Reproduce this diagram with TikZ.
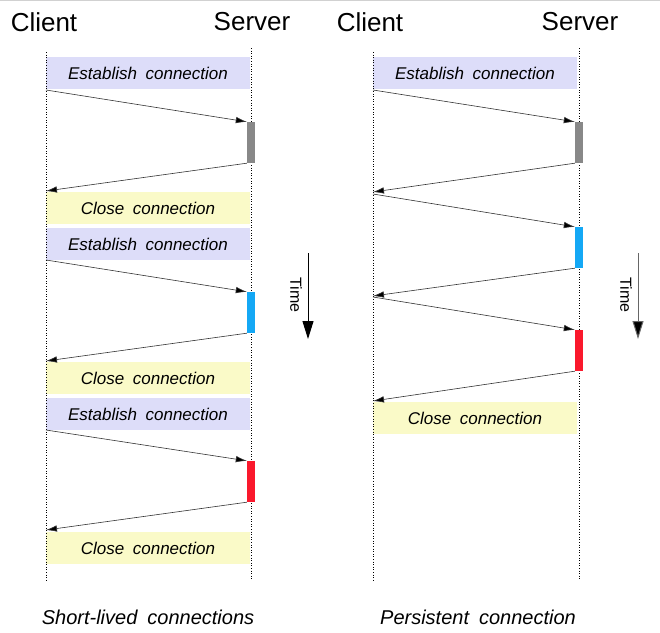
\documentclass[tikz,border=0pt]{standalone}
\usepackage{fontspec}
\setmainfont{Liberation Sans}[WordSpace=1.8]
\usetikzlibrary{arrows.meta}
\definecolor{estfill}{RGB}{221,221,249}
\definecolor{closefill}{RGB}{250,250,200}
\definecolor{bargray}{RGB}{136,136,136}
\definecolor{barblue}{RGB}{20,168,245}
\definecolor{barred}{RGB}{250,24,44}
\tikzset{
  hdr/.style={font=\fontsize{26}{30}\selectfont, inner sep=0pt},
  lifeline/.style={draw=black, line width=0.6pt, dotted},
  boxbase/.style={rectangle, minimum width=204pt, minimum height=32pt, inner sep=0pt, font=\fontsize{17}{20}\selectfont\itshape},
  estbox/.style={boxbase, fill=estfill},
  closebox/.style={boxbase, fill=closefill},
  actbar/.style={rectangle, minimum width=8pt, minimum height=41pt, inner sep=0pt},
  msg/.style={draw=black!80, line width=0.6pt, -{Latex[length=11pt,width=6.5pt,fill=black]}},
  timearrow/.style={line width=1pt, -{Triangle[length=18pt,width=11pt]}},
  timelabel/.style={rotate=-90, font=\fontsize{16}{19}\selectfont, inner sep=0pt},
  caption/.style={font=\fontsize{20}{23}\selectfont\itshape, inner sep=0pt}
}
\begin{document}
\begin{tikzpicture}[x=1pt,y=-1pt]
\useasboundingbox (0,0) rectangle (660,632);
\fill[white] (0,0) rectangle (660,632);
\draw[black!18, line width=1.5pt] (0,0.5) -- (660,0.5);

% ---------- Left: short-lived ----------
\node[hdr] (lclient) at (44,22) {Client};
\node[hdr] (lserver) at (252,22) {Server};
\coordinate (lct) at (46,52);
\coordinate (lcb) at (46,580);
\coordinate (lst) at (251,48);
\coordinate (lsb) at (251,580);

\node[estbox] (le1) at (148,73) {Establish connection};
\node[closebox] (lc1) at (148,208) {Close connection};
\node[estbox] (le2) at (148,244) {Establish connection};
\node[closebox] (lc2) at (148,378) {Close connection};
\node[estbox] (le3) at (148,414) {Establish connection};
\node[closebox] (lc3) at (148,548) {Close connection};

\draw[lifeline] (lct) -- (lcb);
\draw[lifeline] (lst) -- (lsb);

\node[actbar, fill=bargray] (lg) at (251,142.5) {};
\node[actbar, fill=barblue] (lb) at (251,312.5) {};
\node[actbar, fill=barred] (lr) at (251,481.5) {};

\coordinate (la1) at (46,90);
\coordinate (la2) at (46,191);
\coordinate (la3) at (46,260);
\coordinate (la4) at (46,361);
\coordinate (la5) at (46,430);
\coordinate (la6) at (46,530);

\draw[msg] (la1) -- (lg.north west);
\draw[msg] (lg.south west) -- (la2);
\draw[msg] (la3) -- (lb.north west);
\draw[msg] (lb.south west) -- (la4);
\draw[msg] (la5) -- (lr.north west);
\draw[msg] (lr.south west) -- (la6);

\coordinate (lt1) at (308,253);
\coordinate (lt2) at (308,339);
\draw[timearrow, black] (lt1) -- (lt2);
\node[timelabel] (ltl) at (296,295) {Time};

\node[caption] (lcap) at (148,617) {Short-lived connections};

% ---------- Right: persistent ----------
\node[hdr] (rclient) at (370,22) {Client};
\node[hdr] (rserver) at (580,22) {Server};
\coordinate (rct) at (373,52);
\coordinate (rcb) at (373,580);
\coordinate (rst) at (579,48);
\coordinate (rsb) at (579,580);

\node[estbox] (re1) at (475,73) {Establish connection};
\node[closebox] (rc1) at (475,418) {Close connection};

\draw[lifeline] (rct) -- (rcb);
\draw[lifeline] (rst) -- (rsb);

\node[actbar, fill=bargray] (rg) at (579,142.5) {};
\node[actbar, fill=barblue] (rb) at (579,247.5) {};
\node[actbar, fill=barred] (rr) at (579,350.5) {};

\coordinate (ra1) at (373,90);
\coordinate (ra2) at (373,192);
\coordinate (ra3) at (373,194);
\coordinate (ra4) at (373,296);
\coordinate (ra5) at (373,297);
\coordinate (ra6) at (373,401);

\draw[msg] (ra1) -- (rg.north west);
\draw[msg] (rg.south west) -- (ra2);
\draw[msg] (ra3) -- (rb.north west);
\draw[msg] (rb.south west) -- (ra4);
\draw[msg] (ra5) -- (rr.north west);
\draw[msg] (rr.south west) -- (ra6);

\coordinate (rt1) at (638,253);
\coordinate (rt2) at (638,339);
\draw[timearrow, black!60, arrows={-{Triangle[length=18pt,width=11pt,fill=black]}}] (rt1) -- (rt2);
\node[timelabel] (rtl) at (626,295) {Time};

\node[caption] (rcap) at (478,617) {Persistent connection};
\end{tikzpicture}
\end{document}
